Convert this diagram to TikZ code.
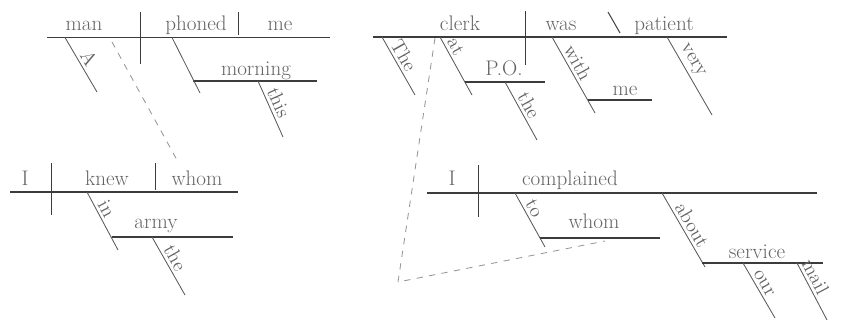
\documentclass[tikz,border=0pt]{standalone}
\usepackage{tikz}
\usetikzlibrary{calc}
\definecolor{ink}{RGB}{60,60,60}
\definecolor{wordc}{RGB}{100,100,100}
\definecolor{linkc}{RGB}{150,150,150}
\tikzset{
  baseln/.style={draw=ink,line width=0.9pt},
  divider/.style={draw=ink,line width=0.7pt},
  slant/.style={draw=ink!85,line width=0.6pt},
  link/.style={draw=linkc,line width=0.6pt,dash pattern=on 4.5pt off 4.5pt},
  word/.style={text=wordc,font=\fontsize{15}{17}\selectfont,anchor=base,inner sep=0pt},
  % words on the slanted lines, #1 = angle below the horizontal
  modw/.style={text=wordc,font=\fontsize{14}{16}\selectfont,rotate=-#1,anchor=south,inner sep=2pt},
  modw/.default=61
}

\begin{document}
\begin{tikzpicture}[x=0.025cm,y=-0.025cm]
  \useasboundingbox (0,0) rectangle (853,323);

  % A man phoned me this morning
  \coordinate (s1L) at (47,37.5);
  \coordinate (s1R) at (330,37.5);
  \draw[baseln] (s1L) -- (s1R);
  \draw[divider] (140,12) -- (140,64);
  \draw[divider] (238,12) -- (238,35);
  \node[word] (man) at (84,30) {man};
  \node[word] (phoned) at (196,30) {phoned};
  \node[word] (me1) at (280,30) {me};
  \draw[slant] (65,37.5) -- node[modw=59.6,pos=0.48] (a1) {A} (97,92);
  \coordinate (mornL) at (193,81);
  \coordinate (mornR) at (317,81);
  \draw[baseln] (mornL) -- (mornR);
  \draw[slant] (172,37.5) -- (200,93);
  \node[word] (morning) at (256,75) {morning};
  \draw[slant] (258,81) -- node[modw=65.9,pos=0.46] (this) {this} (283,137);

  % I knew whom in the army
  \coordinate (s2L) at (10,192);
  \coordinate (s2R) at (238,192);
  \draw[baseln] (s2L) -- (s2R);
  \draw[divider] (51,163) -- (51,215);
  \draw[divider] (155,163) -- (155,190);
  \node[word] (i1) at (25,185) {I};
  \node[word] (knew) at (107,185) {knew};
  \node[word] (whom1) at (197,185) {whom};
  \draw[baseln] (112,237) -- (233,237);
  \draw[slant] (87,192) -- node[modw=61.9,pos=0.36] (in) {in} (118,250);
  \node[word] (army) at (156,228) {army};
  \draw[slant] (152,237) -- node[modw=60.4,pos=0.44] (the1) {the} (185,295);
  \draw[link] (112,42) -- (177,160);

  % The clerk at the P.O. was patient with me
  \coordinate (s3L) at (373,37);
  \coordinate (s3R) at (727,37);
  \draw[baseln] (s3L) -- (s3R);
  \draw[divider] (525,11) -- (525,65);
  \draw[divider] (608,12) -- (620,33);
  \node[word] (clerk) at (460,30) {clerk};
  \node[word] (was) at (561,30) {was};
  \node[word] (patient) at (664,30) {patient};
  \draw[slant] (382,37) -- node[modw=60.4,pos=0.4] (the2) {The} (415,95);
  \draw[slant] (440,37) -- node[modw=61.1,pos=0.24] (at) {at} (472,95);
  \draw[baseln] (465,82) -- (545,82);
  \node[word] (po) at (504,75) {P.O.};
  \draw[slant] (505,82) -- node[modw=61.1,pos=0.48] (the3) {the} (537,140);
  \draw[slant] (552,37) -- node[modw=61.6,pos=0.4] (with) {with} (595,113);
  \draw[baseln] (588,100) -- (652,100);
  \node[word] (me2) at (625,95) {me};
  \draw[slant] (667,37) -- node[modw=60,pos=0.37] (very) {very} (712,115);

  % to whom I complained about our mail service
  \coordinate (s4L) at (427,193);
  \coordinate (s4R) at (817,193);
  \draw[baseln] (s4L) -- (s4R);
  \draw[divider] (478,165) -- (478,217);
  \node[word] (i2) at (452,185) {I};
  \node[word] (complained) at (570,185) {complained};
  \draw[slant] (515,193) -- node[modw=60.9,pos=0.37] (to) {to} (545,247);
  \draw[baseln] (540,238) -- (660,238);
  \node[word] (whom2) at (594,228) {whom};
  \draw[slant] (662,193) -- node[modw=60.4,pos=0.5] (about) {about} (705,267);
  \draw[baseln] (702,263) -- (823,263);
  \node[word] (service) at (757,258) {service};
  \draw[slant] (743,263) -- node[modw=59.8,pos=0.44] (our) {our} (775,318);
  \draw[slant] (797,263) -- node[modw=62.2,pos=0.32] (mail) {mail} (827,320);
  \draw[link] (435,38) -- (398,282) -- (605,241);
\end{tikzpicture}
\end{document}
